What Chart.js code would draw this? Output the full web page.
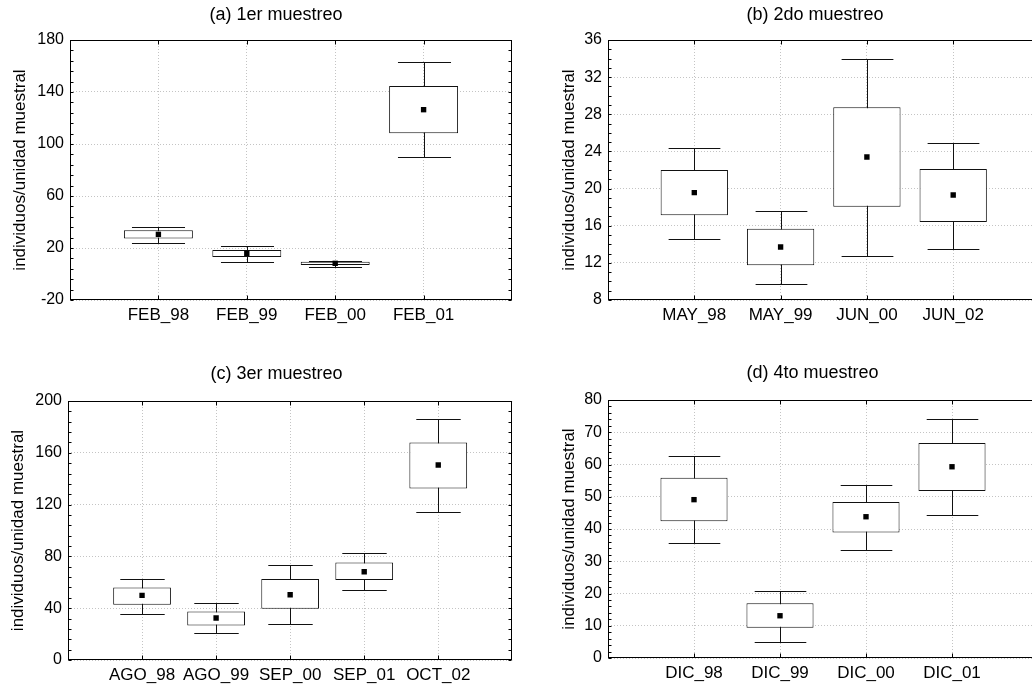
<!DOCTYPE html>
<html>
<head>
<meta charset="utf-8">
<script src="https://cdn.jsdelivr.net/npm/chart.js@4.4.1/dist/chart.umd.min.js"></script>
<style>
  body { margin: 0; background: #fff; overflow: hidden; width: 1032px; height: 687px; position: relative; }
  canvas { position: absolute; }
</style>
</head>
<body>
<canvas id="chartA" width="552" height="340" style="left:0;top:0"></canvas>
<canvas id="chartB" width="598" height="340" style="left:516px;top:0"></canvas>
<canvas id="chartC" width="553" height="360" style="left:0;top:340px"></canvas>
<canvas id="chartD" width="593" height="358" style="left:516px;top:340px"></canvas>
<script>
// (a) 1er muestreo
const catsA = ['FEB_98', 'FEB_99', 'FEB_00', 'FEB_01'];
const mediaA = [30.5, 15.9, 8.2, 126.4];
const cajaBajaA = [27.4, 13.1, 6.9, 108.2];
const cajaAltaA = [33.6, 18.5, 9.5, 144.6];
const bigoteBajoA = [23.6, 9.5, 5.4, 90.0];
const bigoteAltoA = [36.4, 21.8, 10.3, 162.8];

// (b) 2do muestreo
const catsB = ['MAY_98', 'MAY_99', 'JUN_00', 'JUN_02'];
const mediaB = [19.56, 13.71, 23.4, 19.31];
const cajaBajaB = [17.12, 11.73, 18.05, 16.4];
const cajaAltaB = [22.0, 15.68, 28.75, 22.11];
const bigoteBajoB = [14.6, 9.69, 12.74, 13.5];
const bigoteAltoB = [24.4, 17.62, 33.92, 24.94];

// (c) 3er muestreo
const catsC = ['AGO_98', 'AGO_99', 'SEP_00', 'SEP_01', 'OCT_02'];
const mediaC = [49.9, 32.4, 50.4, 68.1, 150.6];
const cajaBajaC = [42.7, 26.7, 39.6, 61.7, 132.4];
const cajaAltaC = [56.0, 37.5, 62.5, 75.3, 167.9];
const bigoteBajoC = [35.7, 20.6, 27.5, 54.0, 113.9];
const bigoteAltoC = [62.5, 43.7, 73.3, 82.5, 186.1];

// (d) 4to muestreo
const catsD = ['DIC_98', 'DIC_99', 'DIC_00', 'DIC_01'];
const mediaD = [49.1, 13.1, 43.8, 59.3];
const cajaBajaD = [42.4, 9.4, 38.9, 51.8];
const cajaAltaD = [55.9, 17.0, 48.4, 66.7];
const bigoteBajoD = [35.6, 5.0, 33.5, 44.3];
const bigoteAltoD = [62.5, 20.8, 53.6, 74.2];

// escalas y (min, max, paso, rayita menor)
const ejeA = { min: -20, max: 180, step: 40, minor: 8 };
const ejeB = { min: 8, max: 36, step: 4, minor: 1 };
const ejeC = { min: 0, max: 200, step: 40, minor: 8 };
const ejeD = { min: 0, max: 80, step: 10, minor: 2 };

const tituloY = 'individuos/unidad muestral';

Chart.defaults.font.family = "'Liberation Sans', Arial, sans-serif";
Chart.defaults.color = '#000';

// bigotes, marco y rayitas hacia adentro
const cajasPlugin = {
    id: 'cajas',
    beforeDatasetsDraw(chart, args, opts) {
        const ctx = chart.ctx;
        const x = chart.scales.x, y = chart.scales.y;
        const slot = x.getPixelForValue(1) - x.getPixelForValue(0);
        const half = slot * opts.cap / 2;
        ctx.save();
        ctx.strokeStyle = '#111';
        ctx.lineWidth = 1;
        ctx.beginPath();
        opts.low.forEach((lo, i) => {
            const px = Math.round(x.getPixelForValue(i + 1)) + 0.5;
            const yLo = Math.round(y.getPixelForValue(lo)) + 0.5;
            const yHi = Math.round(y.getPixelForValue(opts.high[i])) + 0.5;
            ctx.moveTo(px, yLo); ctx.lineTo(px, yHi);
            ctx.moveTo(px - half, yLo); ctx.lineTo(px + half, yLo);
            ctx.moveTo(px - half, yHi); ctx.lineTo(px + half, yHi);
        });
        ctx.stroke();
        ctx.restore();
    },
    afterDraw(chart, args, opts) {
        const ctx = chart.ctx;
        const a = chart.chartArea;
        const x = chart.scales.x, y = chart.scales.y;
        const l = Math.round(a.left) + 0.5, r = Math.round(a.right) - 0.5;
        const t = Math.round(a.top) + 0.5, b = Math.round(a.bottom) - 0.5;
        ctx.save();
        ctx.strokeStyle = '#000';
        ctx.lineWidth = 1;
        ctx.strokeRect(l, t, r - l, b - t);
        ctx.beginPath();
        for (let v = y.min; v <= y.max + 1e-9; v += opts.minor) {
            const py = Math.round(y.getPixelForValue(v)) + 0.5;
            ctx.moveTo(l, py); ctx.lineTo(l + 3, py);
            ctx.moveTo(r, py); ctx.lineTo(r - 3, py);
        }
        for (let i = 1; i <= opts.low.length; i++) {
            const px = Math.round(x.getPixelForValue(i)) + 0.5;
            ctx.moveTo(px, t); ctx.lineTo(px, t + 4);
            ctx.moveTo(px, b); ctx.lineTo(px, b - 4);
        }
        ctx.stroke();
        ctx.restore();
    }
};

function crearPanel(id, titulo, cats, media, cajaBaja, cajaAlta, bigoteBajo, bigoteAlto, eje, marco) {
    const n = cats.length;
    return new Chart(document.getElementById(id), {
        type: 'bar',
        data: {
            datasets: [
                {
                    type: 'scatter',
                    data: cats.map((c, i) => ({ x: i + 1, y: media[i] })),
                    pointStyle: 'rect',
                    pointRadius: 3.8,
                    backgroundColor: '#000',
                    borderColor: '#000',
                    borderWidth: 0,
                    order: 1
                },
                {
                    type: 'bar',
                    data: cats.map((c, i) => ({ x: i + 1, y: [cajaBaja[i], cajaAlta[i]] })),
                    backgroundColor: '#fff',
                    borderColor: '#111',
                    borderWidth: 1,
                    borderSkipped: false,
                    barPercentage: 0.78,
                    categoryPercentage: 1,
                    order: 2
                }
            ]
        },
        options: {
            responsive: false,
            animation: false,
            layout: { padding: 0 },
            plugins: {
                legend: { display: false },
                tooltip: { enabled: false },
                title: {
                    display: true,
                    text: titulo,
                    color: '#000',
                    font: { size: 18, weight: 'normal' },
                    padding: { top: marco.tTop, bottom: marco.tBottom }
                },
                cajas: { low: bigoteBajo, high: bigoteAlto, cap: 0.6, minor: eje.minor }
            },
            scales: {
                x: {
                    type: 'linear',
                    min: 0,
                    max: n + 1,
                    offset: false,
                    afterFit: s => { s.height = 40; },
                    grid: {
                        offset: false,
                        drawTicks: false,
                        color: c => (c.tick && c.tick.value >= 1 && c.tick.value <= n) ? '#c4c4c4' : 'rgba(0,0,0,0)'
                    },
                    border: { display: false, dash: [1, 2] },
                    ticks: {
                        stepSize: 1,
                        autoSkip: false,
                        maxRotation: 0,
                        padding: 5,
                        font: { size: 17 },
                        callback: v => cats[v - 1] || ''
                    }
                },
                y: {
                    min: eje.min,
                    max: eje.max,
                    afterFit: s => { s.width = marco.yWidth; },
                    grid: { drawTicks: false, color: '#c4c4c4' },
                    border: { display: false, dash: [1, 2] },
                    ticks: { stepSize: eje.step, padding: 6, font: { size: 16 } },
                    title: {
                        display: true,
                        text: tituloY,
                        font: { size: 17 },
                        padding: { top: marco.yTitle, bottom: 0 }
                    }
                },
                // espacio a la derecha, para centrar el titulo como en el original
                derecha: {
                    type: 'linear',
                    position: 'right',
                    display: true,
                    grid: { display: false },
                    border: { display: false },
                    ticks: { display: false },
                    afterFit: s => { s.width = marco.right; }
                }
            }
        },
        plugins: [cajasPlugin]
    });
}

crearPanel('chartA', '(a) 1er muestreo', catsA, mediaA, cajaBajaA, cajaAltaA, bigoteBajoA, bigoteAltoA, ejeA,
    { yWidth: 70, right: 40, tTop: 4.2, tBottom: 14.2, yTitle: 10 });
crearPanel('chartB', '(b) 2do muestreo', catsB, mediaB, cajaBajaB, cajaAltaB, bigoteBajoB, bigoteAltoB, ejeB,
    { yWidth: 92, right: 74.5, tTop: 4.2, tBottom: 14.2, yTitle: 43 });
crearPanel('chartC', '(c) 3er muestreo', catsC, mediaC, cajaBajaC, cajaAltaC, bigoteBajoC, bigoteAltoC, ejeC,
    { yWidth: 68, right: 40.7, tTop: 23.5, tBottom: 15.9, yTitle: 8 });
crearPanel('chartD', '(d) 4to muestreo', catsD, mediaD, cajaBajaD, cajaAltaD, bigoteBajoD, bigoteAltoD, ejeD,
    { yWidth: 92, right: 71, tTop: 22.5, tBottom: 15.9, yTitle: 43 });
</script>
</body>
</html>
